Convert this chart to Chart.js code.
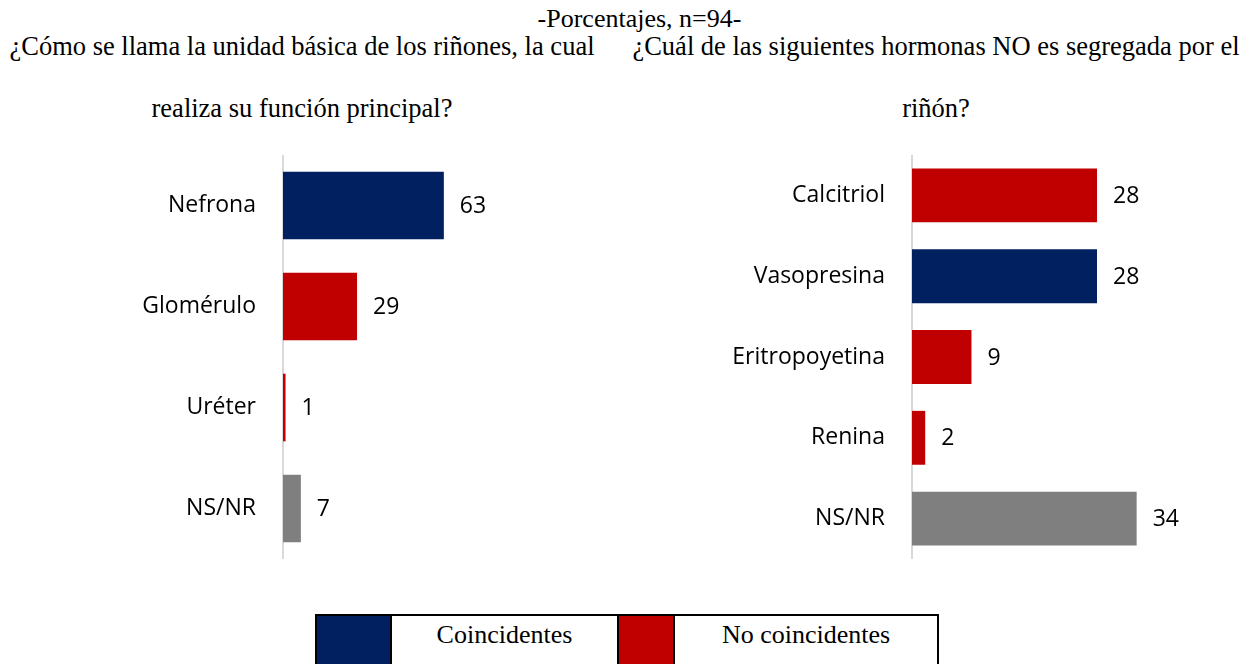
<!DOCTYPE html>
<html>
<head>
<meta charset="utf-8">
<script src="https://cdn.jsdelivr.net/npm/chart.js@4/dist/chart.umd.min.js"></script>
<style>
  body { margin: 0; background: #fff; width: 1247px; height: 664px; overflow: hidden; position: relative; }
  .serif { font-family: "Liberation Serif", "Times New Roman", serif; font-size: 26.5px; color: #000; position: absolute; white-space: nowrap; text-align: center; line-height: 30px; }
  #legend { position: absolute; left: 315px; top: 614px; width: 624px; height: 60px; border: 2px solid #000; box-sizing: border-box; display: flex; }
  #legend div { height: 100%; box-sizing: border-box; }
  #legend .sw { border-right: 2px solid #000; }
  #legend .txt { font-family: "Liberation Serif", serif; font-size: 26px; text-align: center; padding-top: 4px; border-right: 2px solid #000; }
</style>
</head>
<body>
<div class="serif" style="left:16px;width:1247px;top:4px;font-size:26px;">-Porcentajes, n=94-</div>
<div class="serif" style="left:0;width:604px;top:31px;">¿Cómo se llama la unidad básica de los riñones, la cual</div>
<div class="serif" style="left:0;width:604px;top:93px;">realiza su función principal?</div>
<div class="serif" style="left:625px;width:622px;top:31px;">¿Cuál de las siguientes hormonas NO es segregada por el</div>
<div class="serif" style="left:625px;width:622px;top:93px;">riñón?</div>

<canvas id="left" style="position:absolute;left:0;top:155px;"></canvas>
<canvas id="right" style="position:absolute;left:620px;top:155px;"></canvas>

<div id="legend">
  <div class="sw" style="width:75px;background:#002060;"></div>
  <div class="txt" style="width:227px;">Coincidentes</div>
  <div class="sw" style="width:56px;background:#C00000;"></div>
  <div class="txt" style="flex:1;border-right:none;">No coincidentes</div>
</div>

<script>
// pregunta 1
const leftCategories = ['Nefrona', 'Glomérulo', 'Uréter', 'NS/NR'];
const leftValues = [63, 29, 1, 7];
const leftGroups = ['si', 'no', 'no', 'ns'];

// pregunta 2
const rightCategories = ['Calcitriol', 'Vasopresina', 'Eritropoyetina', 'Renina', 'NS/NR'];
const rightValues = [28, 28, 9, 2, 34];
const rightGroups = ['no', 'si', 'no', 'no', 'ns'];

const groupColor = { si: '#002060', no: '#C00000', ns: '#7F7F7F' };
const labelFont = { family: "'Open Sans', 'Noto Sans', sans-serif", size: 23 };

// value labels at the end of each bar
const valueLabels = {
    id: 'valueLabels',
    afterDatasetsDraw(chart) {
        const ctx = chart.ctx;
        const meta = chart.getDatasetMeta(0);
        ctx.save();
        ctx.font = labelFont.size + 'px ' + labelFont.family;
        ctx.fillStyle = '#000';
        ctx.textAlign = 'left';
        ctx.textBaseline = 'middle';
        meta.data.forEach((bar, i) => {
            ctx.fillText(chart.data.datasets[0].data[i], bar.x + 16, bar.y + 1);
        });
        ctx.restore();
    }
};

function makeChart(id, w, axisW, xMax, cats, vals, groups, barPct) {
    const canvas = document.getElementById(id);
    canvas.width = w;
    canvas.height = 404;
    canvas.style.width = w + 'px';
    canvas.style.height = '404px';
    return new Chart(canvas, {
        type: 'bar',
        data: {
            labels: cats,
            datasets: [{
                data: vals,
                backgroundColor: groups.map(g => groupColor[g]),
                categoryPercentage: 1,
                barPercentage: barPct
            }]
        },
        options: {
            indexAxis: 'y',
            responsive: false,
            animation: false,
            layout: { padding: 0 },
            plugins: { legend: { display: false }, tooltip: { enabled: false } },
            scales: {
                x: { display: false, min: 0, max: xMax },
                y: {
                    grid: { display: false, drawTicks: false },
                    border: { display: true, color: '#D9D9D9', width: 2 },
                    ticks: { color: '#000', font: labelFont, padding: 27 },
                    afterFit: s => {
                        s.width = axisW;
                        s.paddingTop = 0;
                        s.paddingBottom = 0;
                    }
                }
            }
        },
        plugins: [valueLabels]
    });
}

makeChart('left', 620, 283, 132, leftCategories, leftValues, leftGroups, 0.67);
makeChart('right', 627, 292, 50.7, rightCategories, rightValues, rightGroups, 0.667);
</script>
</body>
</html>
